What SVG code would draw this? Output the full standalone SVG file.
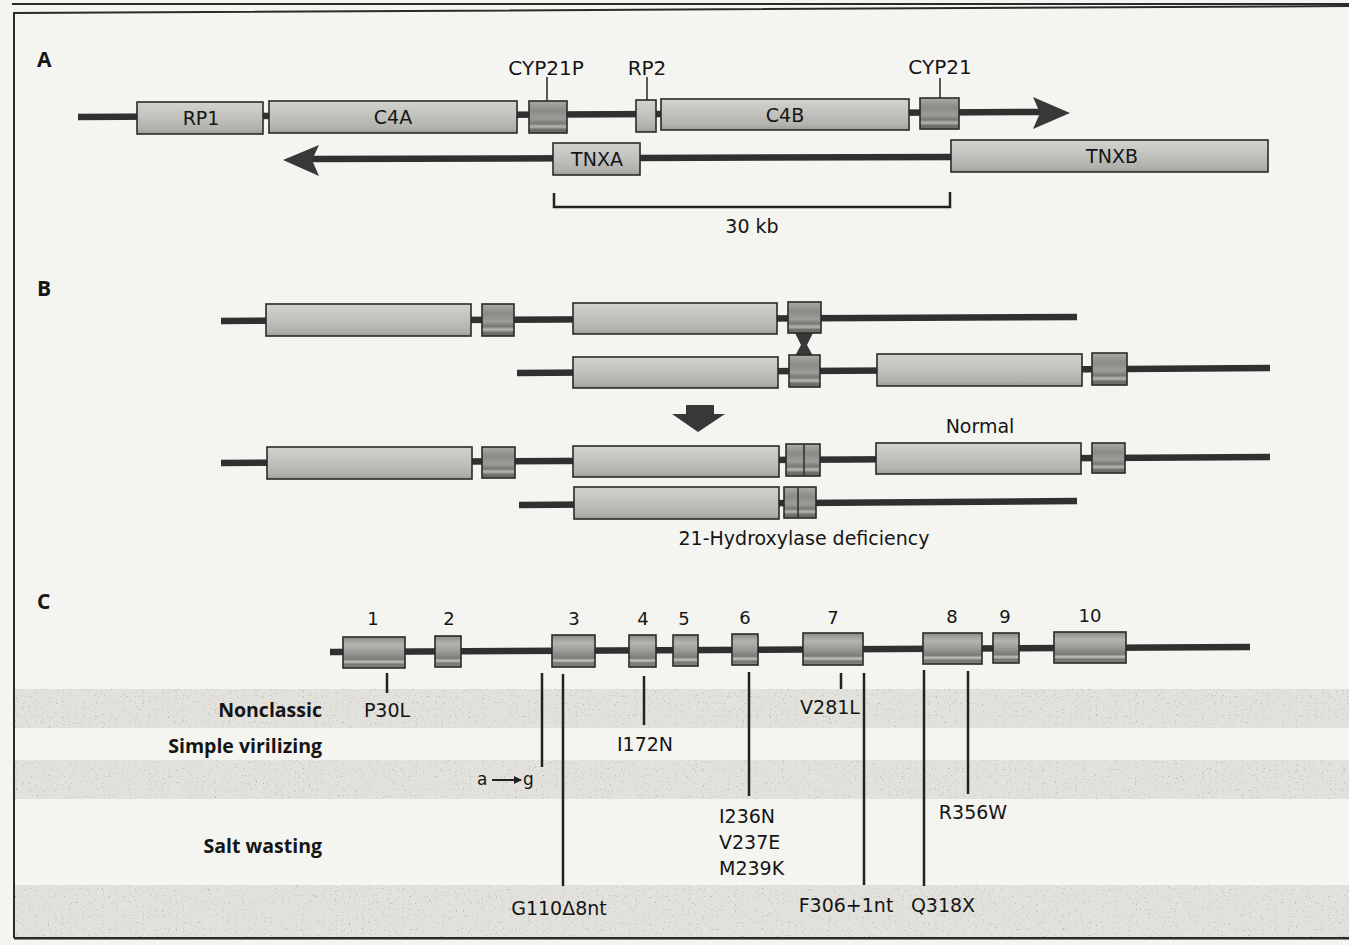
<svg xmlns="http://www.w3.org/2000/svg" width="1349" height="945" viewBox="0 0 1349 945">
<style>
.t{font-family:"DejaVu Sans",sans-serif;fill:#151515;font-size:19px}
.gl{font-size:20px}
.ex{font-size:18px;text-anchor:middle}
.mid{text-anchor:middle}
.pl{font-family:"Open Sans",sans-serif;font-weight:700;font-size:21px;fill:#151515}
.cat{font-family:"Open Sans",sans-serif;font-weight:700;font-size:19.5px;fill:#151515;text-anchor:end}
.bb{stroke:#303030;stroke-width:6.5;fill:none}
.ln{stroke:#222;stroke-width:2.5;fill:none}
.lead{stroke:#333;stroke-width:1.6;fill:none}
.big{fill:url(#gBig);stroke:#2a2a2a;stroke-width:1.6}
.sm{fill:url(#gSmall);stroke:#2a2a2a;stroke-width:1.6}
.exn{fill:url(#gExon);stroke:#2a2a2a;stroke-width:1.6}
.band{fill:#e2e1dc}
.head{fill:#383838}
</style>
<defs>
<linearGradient id="gBig" x1="0" y1="0" x2="0" y2="1">
<stop offset="0" stop-color="#d2d2ce"/><stop offset="0.5" stop-color="#c0c0bc"/><stop offset="0.85" stop-color="#b0b0ac"/><stop offset="1" stop-color="#9c9c98"/>
</linearGradient>
<linearGradient id="gSmall" x1="0" y1="0" x2="0" y2="1">
<stop offset="0" stop-color="#aaaaa6"/><stop offset="0.3" stop-color="#8a8a86"/><stop offset="0.55" stop-color="#9c9c98"/><stop offset="0.7" stop-color="#777773"/><stop offset="0.8" stop-color="#b6b6b2"/><stop offset="0.9" stop-color="#686864"/><stop offset="1" stop-color="#747470"/>
</linearGradient>
<linearGradient id="gExon" x1="0" y1="0" x2="0" y2="1">
<stop offset="0" stop-color="#8a8a86"/><stop offset="0.25" stop-color="#b4b4b0"/><stop offset="0.5" stop-color="#9a9a96"/><stop offset="0.72" stop-color="#7a7a76"/><stop offset="0.8" stop-color="#c2c2be"/><stop offset="0.88" stop-color="#767672"/><stop offset="1" stop-color="#868682"/>
</linearGradient>
<filter id="speck" x="0" y="0" width="100%" height="100%">
<feTurbulence type="fractalNoise" baseFrequency="0.85" numOctaves="1" seed="4" result="n"/>
<feColorMatrix in="n" type="matrix" values="0 0 0 0 0.42  0 0 0 0 0.42  0 0 0 0 0.4  7 0 0 0 -4.5" result="dots"/>
<feComposite in="dots" in2="SourceGraphic" operator="in" result="d2"/>
<feMerge><feMergeNode in="SourceGraphic"/><feMergeNode in="d2"/></feMerge>
</filter>
<marker id="arr" markerWidth="8" markerHeight="8" refX="7" refY="4" orient="auto" markerUnits="userSpaceOnUse">
<path d="M0,0 L8,4 L0,8 Z" fill="#222"/>
</marker>
</defs>

<rect x="0" y="0" width="1349" height="945" fill="#f4f4f0"/>

<g id="frame">
<path d="M12,4 H1349" stroke="#2a2a2a" stroke-width="2" fill="none"/>
<path d="M14,938 V13 L1349,6" stroke="#2a2a2a" stroke-width="2" fill="none"/>
<path d="M14,938 H1349" stroke="#2a2a2a" stroke-width="3" fill="none"/>
</g>

<g id="bands" filter="url(#speck)">
<rect class="band" x="15" y="689" width="1334" height="39"/>
<rect class="band" x="15" y="760" width="1334" height="39"/>
<rect class="band" x="15" y="885" width="1334" height="52"/>
</g>

<g id="panel-labels">
<text class="pl" x="37" y="67">A</text>
<text class="pl" x="37" y="296">B</text>
<text class="pl" x="37" y="609">C</text>
</g>

<g id="connectors">
<path class="bb" d="M78,117 L1040,112"/>
<polygon class="head" points="1033,97 1070,113 1033,129 1040,113"/>
<path class="bb" d="M312,159 L951,157"/>
<polygon class="head" points="319,145 283,160 319,176 312,160"/>
<path class="lead" d="M547,77 V110"/>
<path class="lead" d="M647,77 V108"/>
<path class="lead" d="M940,78 V107"/>
<path class="ln" d="M554,193 V207 H950 V192"/>
<path class="bb" d="M221,321 L1077,317"/>
<path class="bb" d="M517,373 L1270,368"/>
<path class="bb" d="M221,463 L1270,457"/>
<path class="bb" d="M519,505 L1077,501"/>
<polygon class="head" points="795,333 813,333 807,345 813,356 795,356 801,345"/>
<polygon class="head" points="686,405 714,405 714,414 725,414 698,432 672,414 686,414"/>
<path class="bb" d="M330,652 L1250,647"/>
<path class="ln" d="M387,673 V693"/>
<path class="ln" d="M542,673 V767"/>
<path class="ln" d="M563,674 V886"/>
<path class="ln" d="M644,676 V725"/>
<path class="ln" d="M749,672 V796"/>
<path class="ln" d="M841,673 V689"/>
<path class="ln" d="M864,673 V885"/>
<path class="ln" d="M924,670 V886"/>
<path class="ln" d="M968,671 V794"/>
<path d="M492,780 H521" stroke="#222" stroke-width="2" fill="none" marker-end="url(#arr)"/>
</g>

<g id="panelA">
<g id="RP1"><rect class="big" x="137" y="102" width="126" height="32"/><text class="t mid" x="201" y="125">RP1</text></g>
<g id="C4A"><rect class="big" x="269" y="101" width="248" height="32"/><text class="t mid" x="393" y="124">C4A</text></g>
<g id="CYP21P"><rect class="sm" x="529" y="101" width="38" height="32"/><text class="t gl mid" x="546" y="75">CYP21P</text></g>
<g id="RP2"><rect class="big" x="636" y="100" width="20" height="32"/><text class="t gl mid" x="647" y="75">RP2</text></g>
<g id="C4B"><rect class="big" x="661" y="99" width="248" height="31"/><text class="t mid" x="785" y="122">C4B</text></g>
<g id="CYP21"><rect class="sm" x="920" y="98" width="39" height="31"/><text class="t gl mid" x="940" y="74">CYP21</text></g>
<g id="TNXA"><rect class="big" x="553" y="143" width="87" height="32"/><text class="t mid" x="597" y="166">TNXA</text></g>
<g id="TNXB"><rect class="big" x="951" y="140" width="317" height="32"/><text class="t mid" x="1112" y="163">TNXB</text></g>
<g id="scale"><text class="t mid" x="752" y="233">30 kb</text></g>
</g>

<g id="panelB">
<g id="b-row1">
<rect class="big" x="266" y="304" width="205" height="32"/>
<rect class="sm" x="482" y="304" width="32" height="32"/>
<rect class="big" x="573" y="303" width="204" height="31"/>
<rect class="sm" x="788" y="302" width="33" height="31"/>
</g>
<g id="b-row2">
<rect class="big" x="573" y="357" width="205" height="31"/>
<rect class="sm" x="789" y="355" width="31" height="32"/>
<rect class="big" x="877" y="354" width="205" height="32"/>
<rect class="sm" x="1092" y="353" width="35" height="32"/>
</g>
<g id="b-normal">
<rect class="big" x="267" y="447" width="205" height="32"/>
<rect class="sm" x="482" y="447" width="33" height="31"/>
<rect class="big" x="573" y="446" width="206" height="31"/>
<rect class="sm" x="786" y="444" width="34" height="32"/>
<path class="lead" d="M804,444 V476"/>
<rect class="big" x="876" y="443" width="205" height="31"/>
<rect class="sm" x="1092" y="443" width="33" height="30"/>
<text class="t mid" x="980" y="433">Normal</text>
</g>
<g id="b-deficiency">
<rect class="big" x="574" y="487" width="205" height="32"/>
<rect class="sm" x="784" y="487" width="32" height="31"/>
<path class="lead" d="M798,487 V518"/>
<text class="t mid" x="804" y="545">21-Hydroxylase deficiency</text>
</g>
</g>

<g id="panelC">
<g id="exon1"><rect class="exn" x="343" y="637" width="62" height="31"/><text class="t ex" x="373" y="625">1</text></g>
<g id="exon2"><rect class="exn" x="435" y="636" width="26" height="31"/><text class="t ex" x="449" y="625">2</text></g>
<g id="exon3"><rect class="exn" x="552" y="635" width="43" height="32"/><text class="t ex" x="574" y="625">3</text></g>
<g id="exon4"><rect class="exn" x="629" y="635" width="27" height="32"/><text class="t ex" x="643" y="625">4</text></g>
<g id="exon5"><rect class="exn" x="673" y="635" width="25" height="31"/><text class="t ex" x="684" y="625">5</text></g>
<g id="exon6"><rect class="exn" x="732" y="634" width="26" height="31"/><text class="t ex" x="745" y="624">6</text></g>
<g id="exon7"><rect class="exn" x="803" y="633" width="60" height="32"/><text class="t ex" x="833" y="624">7</text></g>
<g id="exon8"><rect class="exn" x="923" y="633" width="59" height="31"/><text class="t ex" x="952" y="623">8</text></g>
<g id="exon9"><rect class="exn" x="993" y="633" width="26" height="30"/><text class="t ex" x="1005" y="623">9</text></g>
<g id="exon10"><rect class="exn" x="1054" y="632" width="72" height="31"/><text class="t ex" x="1090" y="622">10</text></g>

<g id="categories">
<text class="cat" x="322" y="717">Nonclassic</text>
<text class="cat" x="322" y="753">Simple virilizing</text>
<text class="cat" x="322" y="853">Salt wasting</text>
</g>

<g id="mutations">
<text class="t mid" x="387" y="717">P30L</text>
<text class="t" x="477" y="785" style="font-size:17px">a</text>
<text class="t" x="523" y="785" style="font-size:17px">g</text>
<text class="t mid" x="559" y="915">G110Δ8nt</text>
<text class="t mid" x="645" y="751">I172N</text>
<text class="t" x="719" y="823">I236N</text>
<text class="t" x="719" y="849">V237E</text>
<text class="t" x="719" y="875">M239K</text>
<text class="t mid" x="830" y="714">V281L</text>
<text class="t mid" x="846" y="912">F306+1nt</text>
<text class="t mid" x="943" y="912">Q318X</text>
<text class="t mid" x="973" y="819">R356W</text>
</g>
</g>
</svg>
